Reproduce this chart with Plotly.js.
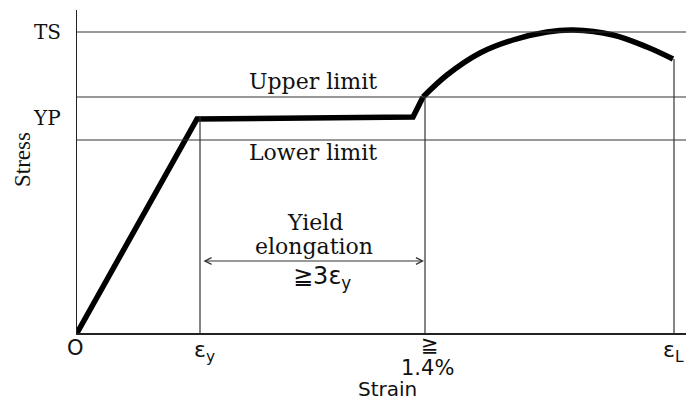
<!DOCTYPE html>
<html>
<head>
<meta charset="utf-8">
<script src="https://cdn.plot.ly/plotly-3.0.1.min.js"></script>
<style>html,body{margin:0;padding:0;background:#fff;}#chart{width:686px;height:403px;}</style>
</head>
<body>
<div id="chart"></div>
<script>
// Stress-strain curve (arbitrary units)
const strainLinear = [0, 120, 336, 346];
const stressLinear = [0, 214, 216, 236];
const strainHardening = [346, 370, 403, 436, 470, 496, 536, 570, 596];
const stressHardening = [236, 258, 280, 293, 301, 303, 298, 286, 274];

// Reference levels
const levelNames = ['TS', 'Upper limit', 'YP', 'Lower limit'];
const levelValues = [301, 236, 215, 193];

// Strain marks
const strainMarks = [0, 123, 348, 597];
const strainMarkTops = [0, 216, 236, 274];
const strainLabels = ['O', 'ε<sub>y</sub>', '≧', 'ε<sub>L</sub>'];

const xMax = 609, yMax = 323;
const serif = 'DejaVu Serif, Liberation Serif, serif';
const sans = 'DejaVu Sans, sans-serif';
const ink = '#111';

const traces = [
  {x: strainLinear, y: stressLinear, mode: 'lines', line: {color: '#000', width: 5.5}, hoverinfo: 'skip'},
  {x: strainHardening, y: stressHardening, mode: 'lines', line: {color: '#000', width: 5.5, shape: 'spline', smoothing: 1}, hoverinfo: 'skip'}
];

const shapes = [];
[0, 1, 3].forEach(i => {
  shapes.push({type: 'line', xref: 'x', yref: 'y', x0: 0, x1: xMax, y0: levelValues[i], y1: levelValues[i], line: {color: '#333', width: 1}});
});
for (let i = 1; i < strainMarks.length; i++) {
  shapes.push({type: 'line', xref: 'x', yref: 'y', x0: strainMarks[i], x1: strainMarks[i], y0: 0, y1: strainMarkTops[i], line: {color: '#333', width: 1.2}});
}

const annotations = [
  {xref: 'x', yref: 'y', x: 236, y: 252, text: levelNames[1], showarrow: false, font: {family: serif, size: 22, color: ink}},
  {xref: 'x', yref: 'y', x: 236, y: 181, text: levelNames[3], showarrow: false, font: {family: serif, size: 22, color: ink}},
  {xref: 'x', yref: 'y', x: 238, y: 111, text: 'Yield', showarrow: false, font: {family: serif, size: 22, color: ink}},
  {xref: 'x', yref: 'y', x: 237, y: 87, text: 'elongation', showarrow: false, font: {family: serif, size: 22, color: ink}},
  {xref: 'x', yref: 'y', x: 245, y: 56, text: '≧3ε<sub>y</sub>', showarrow: false, font: {family: sans, size: 24, color: ink}},
  {xref: 'x', yref: 'y', axref: 'x', ayref: 'y', x: strainMarks[2] - 1, y: 72, ax: strainMarks[1] + 2, ay: 72, text: '', showarrow: true, arrowhead: 5, startarrowhead: 5, arrowside: 'end+start', arrowsize: 1.3, arrowwidth: 1, arrowcolor: '#333', standoff: 0, startstandoff: 0},
  {xref: 'paper', yref: 'y', x: 0, xshift: -14, xanchor: 'right', y: levelValues[0], text: levelNames[0], showarrow: false, font: {family: serif, size: 20, color: ink}},
  {xref: 'paper', yref: 'y', x: 0, xshift: -14, xanchor: 'right', y: levelValues[2], text: levelNames[2], showarrow: false, font: {family: serif, size: 20, color: ink}},
  {xref: 'paper', yref: 'y', x: 0, xshift: -55, xanchor: 'center', y: 173, text: 'Stress', textangle: -90, showarrow: false, font: {family: 'Liberation Serif, serif', size: 23, color: ink}},
  {xref: 'x', yref: 'y', x: strainMarks[0], xshift: -2, y: 0, yshift: -15, text: strainLabels[0], showarrow: false, font: {family: sans, size: 21, color: ink}},
  {xref: 'x', yref: 'y', x: strainMarks[1] + 4, y: 0, yshift: -18, text: strainLabels[1], showarrow: false, font: {family: sans, size: 22, color: ink}},
  {xref: 'x', yref: 'y', x: strainMarks[2] + 5, y: 0, yshift: -12, text: strainLabels[2], showarrow: false, font: {family: sans, size: 21, color: ink}},
  {xref: 'x', yref: 'y', x: strainMarks[2] + 2, y: 0, yshift: -35, text: '1.4%', showarrow: false, font: {family: sans, size: 21, color: ink}},
  {xref: 'x', yref: 'y', x: strainMarks[3] - 1, y: 0, yshift: -18, text: strainLabels[3], showarrow: false, font: {family: sans, size: 22, color: ink}},
  {xref: 'x', yref: 'y', x: 310, y: 0, yshift: -56, text: 'Strain', showarrow: false, font: {family: sans, size: 20, color: ink}}
];

const layout = {
  width: 686, height: 403,
  margin: {l: 77, r: 0, t: 10, b: 70, pad: 0},
  paper_bgcolor: '#fff', plot_bgcolor: '#fff',
  showlegend: false,
  xaxis: {range: [0, xMax], showgrid: false, zeroline: false, showticklabels: false, ticks: '', showline: true, linecolor: '#222', linewidth: 1.5, fixedrange: true},
  yaxis: {range: [0, yMax], showgrid: false, zeroline: false, showticklabels: false, ticks: '', showline: true, linecolor: '#222', linewidth: 1.5, fixedrange: true},
  shapes: shapes,
  annotations: annotations
};

Plotly.newPlot('chart', traces, layout, {staticPlot: true, displayModeBar: false});
</script>
</body>
</html>
